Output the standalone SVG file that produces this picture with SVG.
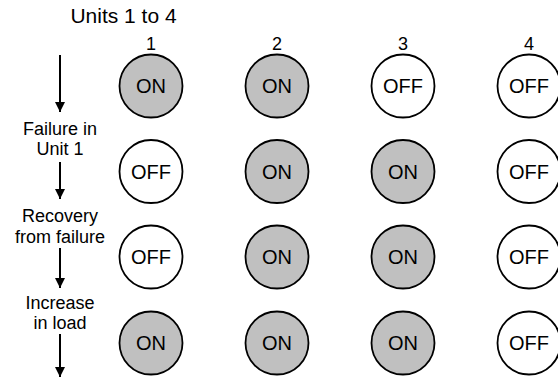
<svg xmlns="http://www.w3.org/2000/svg" width="558" height="378" viewBox="0 0 558 378">
<style>
text{font-family:"Liberation Sans",Arial,sans-serif;fill:#000;text-anchor:middle}
.t{font-size:21px}
.lbl{font-size:18px}
.num{font-size:18px}
.st{font-size:20px}
.on{fill:#c0c0c0;stroke:#000;stroke-width:1.8}
.off{fill:#fff;stroke:#000;stroke-width:1.8}
.arr{stroke:#000;stroke-width:2;fill:none;marker-end:url(#ah)}
</style>
<defs>
<marker id="ah" markerWidth="10" markerHeight="10" refX="10" refY="5" orient="auto" markerUnits="userSpaceOnUse">
<path d="M0,0 L10,5 L0,10 Z" fill="#000"/>
</marker>
</defs>
<g id="title"><text class="t" x="123.5" y="23">Units 1 to 4</text></g>
<g id="colnums">
<text class="num" x="151" y="50">1</text>
<text class="num" x="277" y="50">2</text>
<text class="num" x="403" y="50">3</text>
<text class="num" x="529" y="50">4</text>
</g>
<g id="labels">
<text class="lbl" x="60" y="135">Failure in</text>
<text class="lbl" x="60" y="155">Unit 1</text>
<text class="lbl" x="60" y="222">Recovery</text>
<text class="lbl" x="60" y="243">from failure</text>
<text class="lbl" x="60" y="309">Increase</text>
<text class="lbl" x="60" y="329">in load</text>
</g>
<g id="connectors">
<line class="arr" x1="60" y1="55" x2="60" y2="112"/>
<line class="arr" x1="60" y1="162" x2="60" y2="199"/>
<line class="arr" x1="60" y1="248" x2="60" y2="288"/>
<line class="arr" x1="60" y1="334" x2="60" y2="377"/>
</g>
<g id="r1c1"><circle class="on" cx="151" cy="86" r="31.5"/><text class="st" x="151" y="93">ON</text></g>
<g id="r1c2"><circle class="on" cx="277" cy="86" r="31.5"/><text class="st" x="277" y="93">ON</text></g>
<g id="r1c3"><circle class="off" cx="403" cy="86" r="31.5"/><text class="st" x="403" y="93">OFF</text></g>
<g id="r1c4"><circle class="off" cx="529" cy="86" r="31.5"/><text class="st" x="529" y="93">OFF</text></g>
<g id="r2c1"><circle class="off" cx="151" cy="171.5" r="31.5"/><text class="st" x="151" y="178.5">OFF</text></g>
<g id="r2c2"><circle class="on" cx="277" cy="171.5" r="31.5"/><text class="st" x="277" y="178.5">ON</text></g>
<g id="r2c3"><circle class="on" cx="403" cy="171.5" r="31.5"/><text class="st" x="403" y="178.5">ON</text></g>
<g id="r2c4"><circle class="off" cx="529" cy="171.5" r="31.5"/><text class="st" x="529" y="178.5">OFF</text></g>
<g id="r3c1"><circle class="off" cx="151" cy="257" r="31.5"/><text class="st" x="151" y="264">OFF</text></g>
<g id="r3c2"><circle class="on" cx="277" cy="257" r="31.5"/><text class="st" x="277" y="264">ON</text></g>
<g id="r3c3"><circle class="on" cx="403" cy="257" r="31.5"/><text class="st" x="403" y="264">ON</text></g>
<g id="r3c4"><circle class="off" cx="529" cy="257" r="31.5"/><text class="st" x="529" y="264">OFF</text></g>
<g id="r4c1"><circle class="on" cx="151" cy="343" r="31.5"/><text class="st" x="151" y="350">ON</text></g>
<g id="r4c2"><circle class="on" cx="277" cy="343" r="31.5"/><text class="st" x="277" y="350">ON</text></g>
<g id="r4c3"><circle class="on" cx="403" cy="343" r="31.5"/><text class="st" x="403" y="350">ON</text></g>
<g id="r4c4"><circle class="off" cx="529" cy="343" r="31.5"/><text class="st" x="529" y="350">OFF</text></g>
</svg>
